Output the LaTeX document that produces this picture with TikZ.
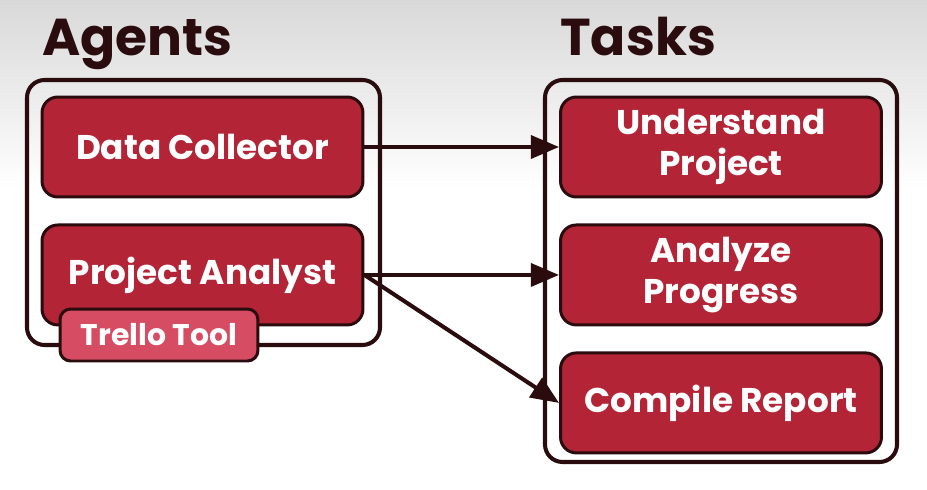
\documentclass[tikz,border=0pt]{standalone}
\usepackage{fontspec}
\setmainfont{Poppins}
\usepackage{xcolor}
\usetikzlibrary{arrows.meta,positioning}

\definecolor{ink}{RGB}{42,12,14}
\definecolor{boxred}{RGB}{178,36,54}
\definecolor{toolred}{RGB}{214,76,98}

\begin{document}
\begin{tikzpicture}[x=0.02cm, y=-0.02cm, >={Triangle[length=16pt,width=13pt]}, node distance=0.5cm]
	\tikzstyle{agent}=[draw=ink, fill=boxred, line width=1.7pt, rounded corners=9pt,
		minimum width=6.42cm, minimum height=2cm, text=white, align=center,
		font=\bfseries\fontsize{19.5}{23}\selectfont]
	\tikzstyle{task}=[agent]
	\tikzstyle{tool}=[agent, fill=toolred, minimum width=3.96cm, minimum height=1.04cm,
		rounded corners=6pt, font=\bfseries\fontsize{17}{20}\selectfont]
	\tikzstyle{group}=[draw=ink, line width=2.3pt, rounded corners=10pt]
	\tikzstyle{title}=[text=ink, inner sep=0pt, font=\bfseries\fontsize{29.5}{33}\selectfont]
	\tikzstyle{link}=[->, draw=ink, fill=ink, line width=2.3pt]

	% background
	\useasboundingbox (0,0) rectangle (927,490);
	\fill[white] (0,0) rectangle (927,490);
	\shade[top color=black!15, bottom color=white] (0,0) rectangle (927,190);

	% headings
	\node[title, anchor=base west] (agt) at (42,55) {Agents};
	\node[title, anchor=base west] (tsk) at (560,55) {Tasks};

	% containers
	\draw[group] (27,80) rectangle (380,345);
	\draw[group] (545,80) rectangle (897,462);

	% agents
	\node[agent] (dc) at (202.5,147) {Data Collector};
	\node[agent, below=of dc] (pa) {Project Analyst};
	\node[tool] (trello) at (159,335) {Trello Tool};

	% tasks
	\node[task] (up) at (721,147) {Understand\\Project};
	\node[task, below=of up] (ap) {Analyze\\Progress};
	\node[task, below=of ap] (cr) {Compile Report};

	\draw[link] (dc.east) -- (up.west);
	\draw[link] (pa.east) -- (ap.west);
	\draw[link] (pa.east) -- (cr.west);

\end{tikzpicture}
\end{document}
